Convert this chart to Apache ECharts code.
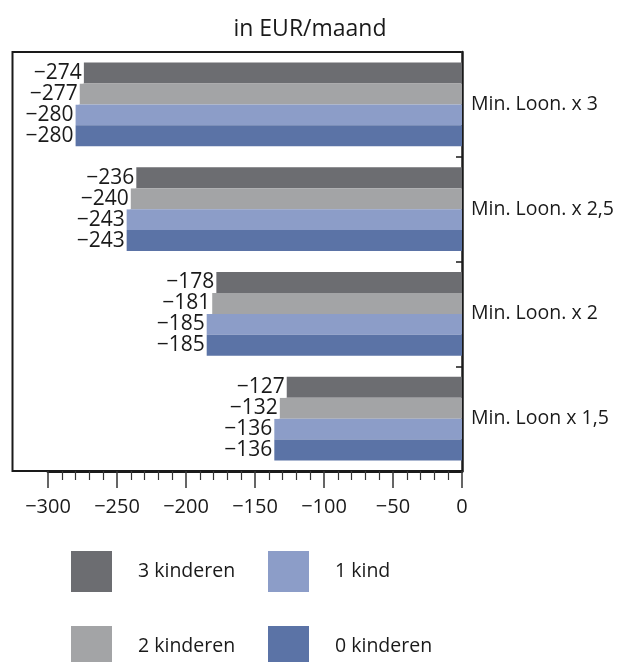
<!DOCTYPE html>
<html>
<head>
<meta charset="utf-8">
<script src="https://cdn.jsdelivr.net/npm/echarts@6/dist/echarts.min.js"></script>
<style>
  html, body { margin: 0; padding: 0; background: #fff; }
  #chart { width: 620px; height: 662px; }
</style>
</head>
<body>
<div id="chart"></div>
<script>
// categories, bottom to top as the category axis lays them out
const categories = ["Min. Loon x 1,5", "Min. Loon. x 2", "Min. Loon. x 2,5", "Min. Loon. x 3"];
const kinderen3 = [-127, -178, -236, -274];
const kinderen2 = [-132, -181, -240, -277];
const kind1 = [-136, -185, -243, -280];
const kinderen0 = [-136, -185, -243, -280];

const FONT = "Open Sans";
const minus = (v) => (v < 0 ? "\u2212" + Math.abs(v) : String(v));

const chart = echarts.init(document.getElementById("chart"));

const barLabel = {
  show: true,
  position: "left",
  distance: 1,
  color: "#1a1a1a",
  fontFamily: FONT,
  fontSize: 21,
  lineHeight: 21,
  backgroundColor: "#fff",
  padding: [0, 1, 0, 2],
  formatter: (p) => minus(p.value),
};

function makeSeries(name, data, color) {
  return {
    name: name,
    type: "bar",
    data: data,
    barGap: "0%",
    barCategoryGap: "20%",
    itemStyle: { color: color },
    label: barLabel,
    emphasis: { disabled: true },
  };
}

// one legend per swatch so the 2x2 layout is fixed
function legendItem(name, left, top) {
  return {
    left: left,
    top: top,
    padding: 0,
    itemWidth: 41,
    itemHeight: 41,
    icon: "rect",
    selectedMode: false,
    data: [name],
    textStyle: { fontFamily: FONT, fontSize: 19.5, color: "#1a1a1a", padding: [2, 0, 0, 21] },
  };
}

const option = {
  animation: false,
  title: {
    text: "in EUR/maand",
    left: "center",
    top: 13,
    textStyle: { fontFamily: FONT, fontSize: 23, fontWeight: "normal", color: "#1a1a1a" },
  },
  grid: { left: 48, right: 158, top: 52, bottom: 191 },
  xAxis: {
    type: "value",
    min: -300,
    max: 0,
    interval: 50,
    axisLine: { show: true, lineStyle: { color: "#1a1a1a", width: 3 } },
    axisTick: { show: true, length: 17, lineStyle: { color: "#333", width: 1.5 } },
    minorTick: { show: true, splitNumber: 5, length: 9, lineStyle: { color: "#333", width: 1.2 } },
    splitLine: { show: false },
    axisLabel: {
      margin: 26,
      color: "#1a1a1a",
      fontFamily: FONT,
      fontSize: 20,
      formatter: (v) => minus(v),
    },
  },
  yAxis: {
    type: "category",
    position: "right",
    data: categories,
    axisLine: { show: true, lineStyle: { color: "#1a1a1a", width: 2.5 } },
    axisTick: { show: true, inside: true, length: 6, lineStyle: { color: "#1a1a1a", width: 1.5 } },
    axisLabel: { margin: 9, color: "#1a1a1a", fontFamily: FONT, fontSize: 19.5 },
  },
  legend: [
    legendItem("3 kinderen", 71, 551),
    legendItem("2 kinderen", 71, 626),
    legendItem("1 kind", 268, 551),
    legendItem("0 kinderen", 268, 626),
  ],
  graphic: [
    {
      type: "polyline",
      shape: { points: [[48, 471], [12.5, 471], [12.5, 52], [461, 52]] },
      style: { stroke: "#1a1a1a", lineWidth: 2, fill: null },
      silent: true,
    },
  ],
  series: [
    makeSeries("3 kinderen", kinderen3, "#6c6d71"),
    makeSeries("2 kinderen", kinderen2, "#a3a4a6"),
    makeSeries("1 kind", kind1, "#8c9dc8"),
    makeSeries("0 kinderen", kinderen0, "#5b73a6"),
  ],
};

chart.setOption(option);
</script>
</body>
</html>
